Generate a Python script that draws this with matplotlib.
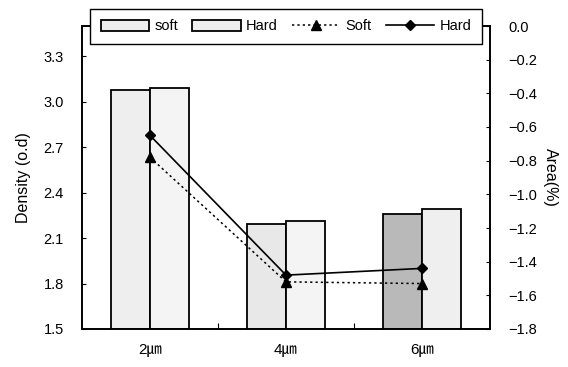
import matplotlib
matplotlib.use("Agg")
import matplotlib.pyplot as plt
import numpy as np
from matplotlib.ticker import FixedLocator

plt.rcParams['font.family'] = ['Liberation Sans', 'Noto Sans CJK KR', 'DejaVu Sans']
plt.rcParams['axes.unicode_minus'] = True

# Data
categories = ['2㎛', '4㎛', '6㎛']
density_soft = [3.08, 2.19, 2.26]
density_hard = [3.09, 2.21, 2.29]
area_soft = [-0.78, -1.52, -1.53]
area_hard = [-0.65, -1.48, -1.44]

soft_colors = ['#eeeeee', '#e8e8e8', '#b9b9b9']
hard_colors = ['#f4f4f4', '#f4f4f4', '#efefef']

fig = plt.figure(figsize=(5.68, 3.67), dpi=100)
ax = fig.add_axes([82 / 568, 38 / 367, 408 / 568, 303 / 367])

x = np.arange(len(categories))
w = 0.285
b1 = ax.bar(x - w / 2, np.array(density_soft) - 1.5, w, bottom=1.5,
            color=soft_colors, edgecolor='black', linewidth=1.3, label='soft')
b2 = ax.bar(x + w / 2, np.array(density_hard) - 1.5, w, bottom=1.5,
            color=hard_colors, edgecolor='black', linewidth=1.3, label='Hard')

ax.set_xlim(-0.5, 2.5)
ax.set_ylim(1.5, 3.5)
ax.set_yticks([1.5, 1.8, 2.1, 2.4, 2.7, 3.0, 3.3])
ax.set_yticklabels(['1.5', '1.8', '2.1', '2.4', '2.7', '3.0', '3.3'])
ax.set_xticks(x)
ax.set_xticklabels(categories, fontsize=11)
ax.xaxis.set_minor_locator(FixedLocator([0.5, 1.5]))
ax.tick_params(axis='x', which='major', length=0, pad=10)
ax.tick_params(axis='x', which='minor', direction='in', length=4, width=0.8)
ax.tick_params(axis='y', direction='in', length=3, width=0.8, labelsize=10.5, pad=13)
ax.set_ylabel('Density (o.d)', fontsize=11.5, labelpad=9)
for s in ax.spines.values():
    s.set_linewidth(1.2)

ax2 = ax.twinx()
ax2.set_ylim(-1.8, 0.0)
ax2.set_yticks(np.round(np.arange(-1.8, 0.01, 0.2), 1))
ax2.set_yticklabels(['−1.8', '−1.6', '−1.4', '−1.2', '−1.0', '−0.8', '−0.6',
                     '−0.4', '−0.2', '0.0'])
ax2.tick_params(axis='y', direction='in', length=3, width=0.8, labelsize=10.5, pad=13)
ax2.set_ylabel('Area(%)', fontsize=11.5, rotation=270, labelpad=15)
for s in ax2.spines.values():
    s.set_linewidth(1.2)

l1, = ax2.plot(x, area_soft, linestyle=(0, (1.5, 2)), color='black', linewidth=1.1,
               marker='^', markersize=7, label='Soft')
l2, = ax2.plot(x, area_hard, linestyle='-', color='black', linewidth=1.2,
               marker='D', markersize=5.5, label='Hard')

leg = fig.legend([b1, b2, l1, l2], ['soft', 'Hard', 'Soft', 'Hard'],
                 loc='center', bbox_to_anchor=(286 / 568, 1 - 26.5 / 367),
                 ncol=4, fontsize=10.5, frameon=True, fancybox=False,
                 handlelength=3.3, handletextpad=0.35, columnspacing=1.0,
                 borderpad=0.75, borderaxespad=0)
leg.get_frame().set_edgecolor('black')
leg.get_frame().set_linewidth(1.0)
leg.get_frame().set_facecolor('white')
leg.get_frame().set_alpha(1)
for p in leg.get_patches():
    p.set_facecolor('#eeeeee')

fig.savefig('out.png', dpi=100)
